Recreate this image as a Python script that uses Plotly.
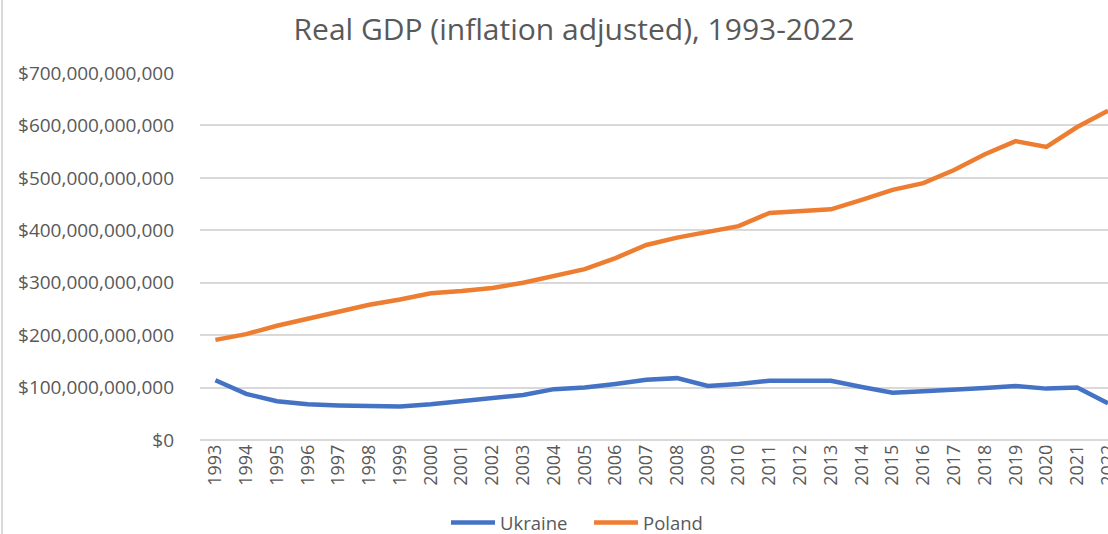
import plotly.graph_objects as go

years = [str(y) for y in range(1993, 2023)]
ukraine_bn = [114, 88, 74, 68, 66, 64, 64, 68, 74, 78, 86, 97, 100, 107, 115, 118,
              103, 107, 113, 113, 113, 101, 90, 93, 95, 99, 103, 98, 100, 70]
poland_bn = [191, 202, 218, 232, 245, 258, 268, 280, 284, 290, 300, 314, 326, 347, 372, 386,
             398, 408, 433, 437, 440, 458, 477, 490, 515, 545, 570, 559, 597, 628]

ukraine = [v * 1e9 for v in ukraine_bn]
poland = [v * 1e9 for v in poland_bn]

FONT = "Open Sans"
GREY = "#595959"

fig = go.Figure()
fig.add_trace(go.Scatter(x=years, y=ukraine, name="Ukraine", mode="lines",
                         line=dict(color="#4472C4", width=4.5)))
fig.add_trace(go.Scatter(x=years, y=poland, name="Poland", mode="lines",
                         line=dict(color="#ED7D31", width=4.5)))

fig.update_layout(
    width=1108, height=534,
    margin=dict(l=200, r=0, t=73, b=94, autoexpand=False),
    paper_bgcolor="white", plot_bgcolor="white",
    font=dict(family=FONT, color=GREY, size=18),
    title=dict(text="Real GDP (inflation adjusted), 1993-2022",
               x=574 / 1108, xanchor="center", xref="container",
               y=1 - 29 / 534, yanchor="middle", yref="container",
               font=dict(size=30, color=GREY, family=FONT)),
    showlegend=True,
    legend=dict(orientation="h", x=(589 - 200) / 908, xanchor="center",
                y=(440 - 523) / 367, yanchor="middle",
                font=dict(size=18.5, color=GREY), itemwidth=44,
                entrywidth=84, entrywidthmode="pixels"),
    xaxis=dict(type="category", range=[-0.5, 29], tickangle=-90, automargin=False,
               showgrid=False, showline=False, zeroline=False, ticks="",
               tickfont=dict(size=18, color=GREY)),
    yaxis=dict(range=[0, 700e9], tick0=0, dtick=100e9, tickformat="$,.0f",
               automargin=False,
               showgrid=True, gridcolor="#D9D9D9", gridwidth=1.5,
               zeroline=True, zerolinecolor="#D9D9D9", zerolinewidth=1.5,
               ticks="", ticklabelstandoff=25,
               tickfont=dict(size=19, color=GREY)),
    shapes=[dict(type="line", xref="paper", yref="paper",
                 x0=(2 - 200) / 908, x1=(2 - 200) / 908,
                 y0=(440 - 534) / 367, y1=440 / 367,
                 line=dict(color="#D9D9D9", width=2))],
)

fig.write_html("out.html", config={"displayModeBar": False},
               post_script="document.body.style.margin='0';document.body.style.overflow='hidden';")
